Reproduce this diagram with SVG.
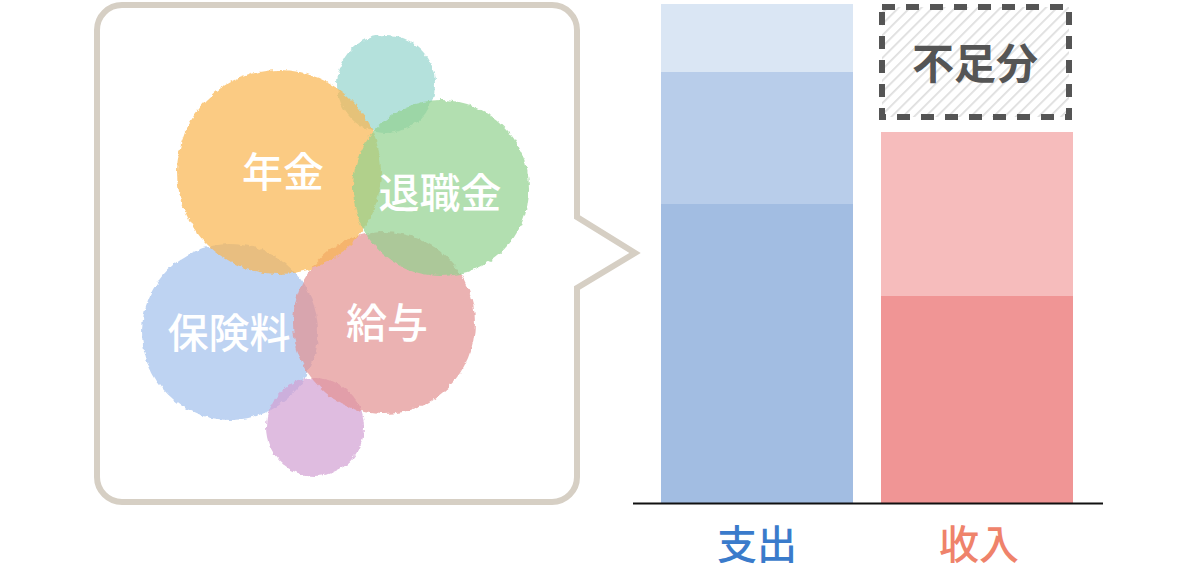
<svg xmlns="http://www.w3.org/2000/svg" width="1200" height="571" viewBox="0 0 1200 571">
  <style>
    .lbl { font-family: "Noto Sans CJK JP", "Noto Sans", sans-serif; font-size: 41px; font-weight: 500; fill: #ffffff; text-anchor: middle; }
    .blob { fill-opacity: 0.7; filter: url(#rough); }
    .axis { font-family: "Noto Sans CJK JP", "Noto Sans", sans-serif; font-size: 40px; font-weight: 500; text-anchor: middle; }
  </style>
  <defs>
    <filter id="rough" x="-10%" y="-10%" width="120%" height="120%">
      <feTurbulence type="fractalNoise" baseFrequency="0.18" numOctaves="2" seed="3" result="n"/>
      <feDisplacementMap in="SourceGraphic" in2="n" scale="5" xChannelSelector="R" yChannelSelector="G"/>
    </filter>
    <pattern id="hatch" patternUnits="userSpaceOnUse" width="8" height="8" patternTransform="rotate(45)">
      <rect width="8" height="8" fill="#ffffff"/>
      <line x1="0" y1="0" x2="0" y2="8" stroke="#dedede" stroke-width="3.5"/>
    </pattern>
  </defs>
  <rect width="1200" height="571" fill="#ffffff"/>

  <g id="bubble">
    <path d="M122 5 H552 A25 25 0 0 1 577 30 V217 L635 253 L577 288 V477 A25 25 0 0 1 552 502 H122 A25 25 0 0 1 97 477 V30 A25 25 0 0 1 122 5 Z" fill="#ffffff" stroke="#d6cfc4" stroke-width="6" stroke-linejoin="miter"/>
  </g>

  <g id="circle-teal"><circle class="blob" cx="386" cy="84" r="49" fill="#94d4cd"/></g>
  <g id="circle-hoken"><circle class="blob" cx="230" cy="332" r="88" fill="#a2c0ec"/></g>
  <g id="circle-purple"><circle class="blob" cx="315" cy="427" r="49" fill="#d19fd3"/></g>
  <g id="circle-kyuyo"><circle class="blob" cx="384" cy="323" r="91" fill="#e29192"/></g>
  <g id="circle-nenkin"><circle class="blob" cx="279" cy="172" r="102" fill="#f9b54e"/></g>
  <g id="circle-taishoku"><circle class="blob" cx="441" cy="188" r="88" fill="#92d18e"/></g>

  <g id="labels-circles">
    <text class="lbl" x="283" y="187">年金</text>
    <text class="lbl" x="440" y="208">退職金</text>
    <text class="lbl" x="229" y="348">保険料</text>
    <text class="lbl" x="387" y="338">給与</text>
  </g>

  <g id="bar-shishutsu">
    <rect x="661" y="4" width="192" height="68" fill="#dae6f4"/>
    <rect x="661" y="72" width="192" height="132" fill="#b8cdea"/>
    <rect x="661" y="204" width="192" height="299" fill="#a2bde2"/>
  </g>

  <g id="bar-shunyu">
    <rect x="881" y="132" width="192" height="164" fill="#f6bcbc"/>
    <rect x="881" y="296" width="192" height="207" fill="#f09595"/>
  </g>

  <g id="fusokubun">
    <rect x="882" y="7" width="187" height="110" fill="url(#hatch)" stroke="#555555" stroke-width="6" stroke-dasharray="13 11"/>
    <text x="975" y="79" font-family="'Noto Sans CJK JP', 'Noto Sans', sans-serif" font-size="42" font-weight="700" fill="#555555" text-anchor="middle">不足分</text>
  </g>

  <g id="connectors">
    <line x1="633" y1="503.5" x2="1103" y2="503.5" stroke="#111111" stroke-width="2"/>
  </g>

  <g id="axis-labels">
    <text class="axis" x="757" y="559" fill="#3a7bcb">支出</text>
    <text class="axis" x="979" y="559" fill="#ef836b">收入</text>
  </g>
</svg>
